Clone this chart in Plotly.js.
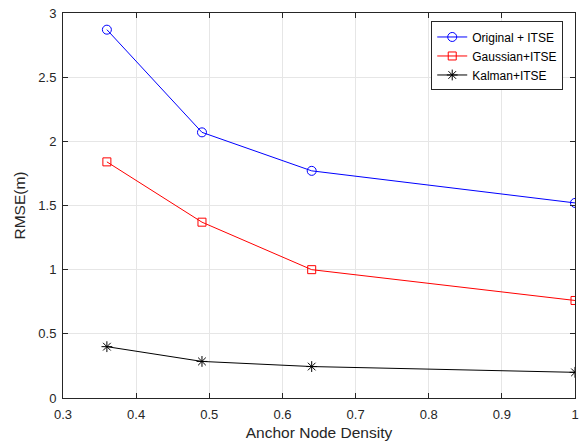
<!DOCTYPE html>
<html><head><meta charset="utf-8">
<script src="https://cdn.plot.ly/plotly-3.0.1.min.js"></script>
<style>html,body{margin:0;padding:0;background:#fff;}#chart{width:587px;height:444px;}</style>
</head><body><div id="chart"></div>
<script>
var density = [0.36, 0.49, 0.64, 1.0];
var originalITSE = [2.87, 2.07, 1.77, 1.52];
var gaussianITSE = [1.84, 1.37, 1.00, 0.76];
var kalmanITSE = [0.40, 0.285, 0.245, 0.20];
var xTicks = [0.3, 0.4, 0.5, 0.6, 0.7, 0.8, 0.9, 1];
var xTickText = ['0.3', '0.4', '0.5', '0.6', '0.7', '0.8', '0.9', '1'];
var yTicks = [0, 0.5, 1, 1.5, 2, 2.5, 3];
var yTickText = ['0', '0.5', '1', '1.5', '2', '2.5', '3'];

var traces = [
  {x: density, y: originalITSE, name: 'Original + ITSE', mode: 'lines+markers',
   line: {color: '#0000ff', width: 1},
   marker: {symbol: 'circle-open', size: 9, color: '#0000ff', line: {width: 1, color: '#0000ff'}}},
  {x: density, y: gaussianITSE, name: 'Gaussian+ITSE', mode: 'lines+markers',
   line: {color: '#ff0000', width: 1},
   marker: {symbol: 'square-open', size: 8, color: '#ff0000', line: {width: 1, color: '#ff0000'}}},
  {x: density, y: kalmanITSE, name: 'Kalman+ITSE', mode: 'lines+markers',
   line: {color: '#000000', width: 1},
   marker: {symbol: 'asterisk-open', size: 9, color: '#000000', line: {width: 1, color: '#000000'}}}
];

var axisCommon = {
  showline: true, linecolor: '#262626', linewidth: 1, mirror: 'ticks',
  ticks: 'inside', ticklen: 5, tickcolor: '#262626', tickwidth: 1,
  showgrid: true, gridcolor: '#e6e6e6', gridwidth: 1, zeroline: false,
  tickfont: {family: 'Liberation Sans, Arial, sans-serif', size: 13, color: '#262626'}
};

var layout = {
  width: 587, height: 444,
  margin: {l: 63, r: 12, t: 13, b: 46},
  paper_bgcolor: '#ffffff', plot_bgcolor: '#ffffff',
  font: {family: 'Liberation Sans, Arial, sans-serif', color: '#262626'},
  showlegend: true,
  xaxis: Object.assign({}, axisCommon, {
    range: [0.3, 1], tickmode: 'array', tickvals: xTicks, ticktext: xTickText,
    ticklabelstandoff: 4,
    title: {text: 'Anchor Node Density', font: {size: 15.5, color: '#262626'}, standoff: 6}
  }),
  yaxis: Object.assign({}, axisCommon, {
    range: [0, 3], tickmode: 'array', tickvals: yTicks, ticktext: yTickText,
    ticklabelstandoff: 3,
    title: {text: 'RMSE(m)', font: {size: 15.5, color: '#262626'}, standoff: 8}
  }),
  legend: {
    x: 0.977, y: 0.978, xanchor: 'right', yanchor: 'top',
    bgcolor: '#ffffff', bordercolor: '#262626', borderwidth: 1,
    font: {size: 12, color: '#000000'}, tracegroupgap: 0, itemwidth: 30
  }
};

Plotly.newPlot('chart', traces, layout, {displayModeBar: false, staticPlot: true});
</script>
</body></html>
